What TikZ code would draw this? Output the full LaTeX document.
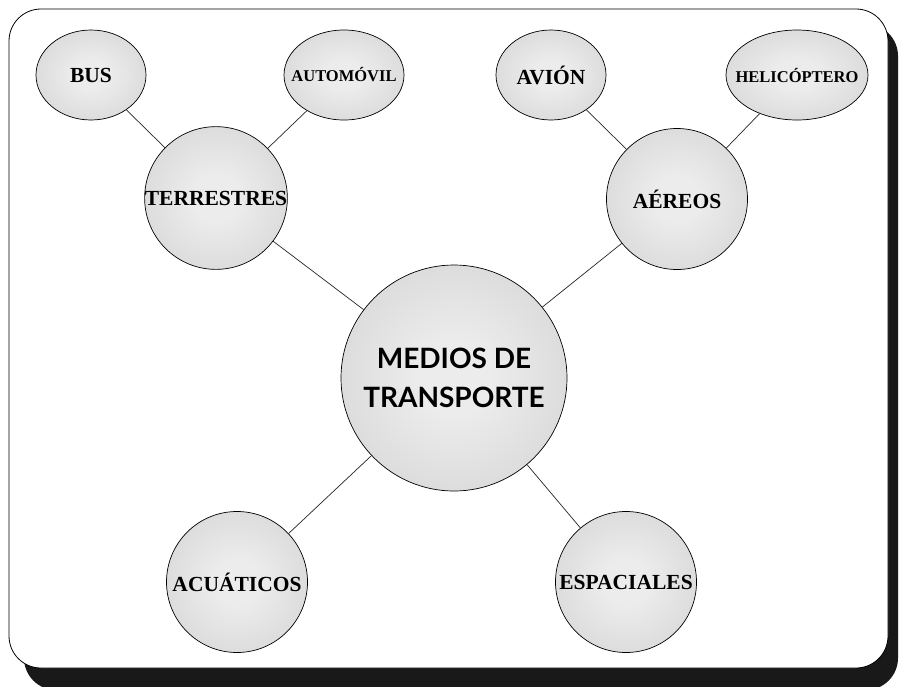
\documentclass[tikz,border=0pt]{standalone}
\usepackage{fontspec}
\setmainfont{Liberation Serif}
\newfontfamily\titlefont{Lato}
\usetikzlibrary{shapes.geometric}
\definecolor{tr_light}{RGB}{236, 236, 236}
\definecolor{tr_dark}{RGB}{198, 198, 198}
\pgfdeclareradialshading{trball}{\pgfpoint{0bp}{0bp}}{color(0bp)=(tr_light);
  color(8bp)=(tr_light); color(50bp)=(tr_dark)}
\tikzstyle{cn}=[circle,shading=trball,draw=black,
  line width=0.7 pt,inner sep=0pt,minimum size=141pt,font=\bfseries\fontsize{21.5}{21.5}\selectfont]
\tikzstyle{en}=[ellipse,shading=trball,draw=black,
  line width=0.7 pt,inner ysep=0pt,inner xsep=-14pt,minimum width=110pt,minimum height=90pt,
  font=\bfseries\fontsize{21.5}{21.5}\selectfont]
\tikzstyle{small}=[font=\bfseries\fontsize{16.5}{16.5}\selectfont]
\tikzstyle{main}=[circle,shading=trball,draw=black,
  line width=0.7 pt,inner sep=0pt,minimum size=226pt,align=center,
  font=\titlefont\bfseries\fontsize{28}{39}\selectfont]
\tikzstyle{link}=[line width=0.7 pt,draw=black!85]

\begin{document}
\begin{tikzpicture}[x=1pt,y=-1pt]
            \useasboundingbox (0,0) rectangle (899,686);
            \clip (0,0) rectangle (899,686);
            % frame with shadow
            \fill [black!90,rounded corners=32pt] (24,24) rectangle (898,690);
            \draw [fill=white,line width=0.8 pt,rounded corners=32pt] (9,9) rectangle (888,668);
            \node [style=main] (0) at (454,378) {MEDIOS DE\\TRANSPORTE};
            \node [style=cn] (1) at (216,198) {TERRESTRES};
            \node [style=cn] (2) at (677,199) {AÉREOS};
            \node [style=cn] (3) at (237,582) {ACUÁTICOS};
            \node [style=cn] (4) at (626,582) {ESPACIALES};
            \node [style=en] (5) at (91,75) {BUS};
            \node [style=en,small,minimum width=120pt] (6) at (344,75) {AUTOMÓVIL};
            \node [style=en] (7) at (551,75) {AVIÓN};
            \node [style=en,small,minimum width=142pt] (8) at (797,75) {HELICÓPTERO};
            \draw [style=link] (5) to (1);
            \draw [style=link] (6) to (1);
            \draw [style=link] (7) to (2);
            \draw [style=link] (8) to (2);
            \draw [style=link] (1) to (0);
            \draw [style=link] (2) to (0);
            \draw [style=link] (0) to (3);
            \draw [style=link] (0) to (4);
    \end{tikzpicture}
\end{document}
